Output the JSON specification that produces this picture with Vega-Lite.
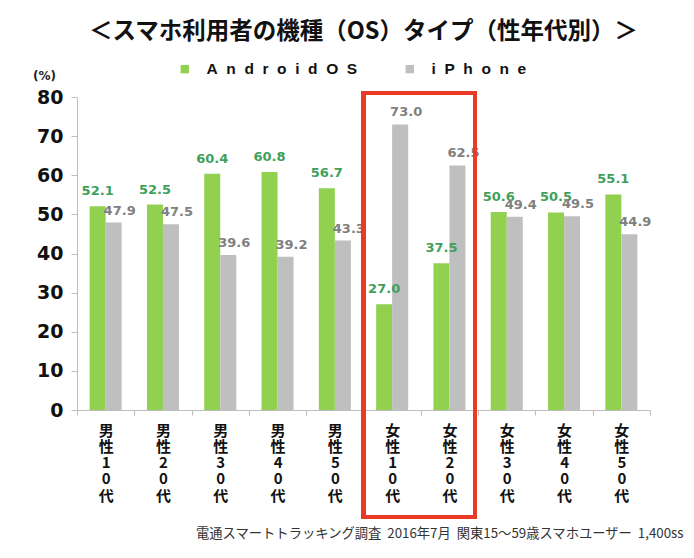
{
  "$schema": "https://vega.github.io/schema/vega-lite/v6.json",
  "width": 573,
  "height": 313,
  "autosize": {"type": "none"},
  "padding": {"left": 77, "top": 97, "right": 44, "bottom": 148},
  "background": "white",
  "title": {
    "text": "＜スマホ利用者の機種（OS）タイプ（性年代別）＞",
    "font": "Noto Sans CJK JP",
    "fontSize": 23.5,
    "fontWeight": "bold",
    "color": "#111111",
    "anchor": "middle",
    "frame": "group",
    "offset": 18
  },
  "config": {
    "view": {"stroke": null},
    "axis": {"grid": false},
    "axisY": {
      "titleAngle": 0,
      "titleX": -33,
      "titleY": -22,
      "titleAlign": "center",
      "titleBaseline": "middle",
      "titleFont": "DejaVu Sans",
      "titleFontSize": 12,
      "titleFontWeight": "bold",
      "titleColor": "#222222",
      "labelFont": "DejaVu Sans",
      "labelFontSize": 19,
      "labelFontWeight": "bold",
      "labelColor": "#111111",
      "labelPadding": 8,
      "tickSize": 6,
      "tickColor": "#bfbfbf",
      "domainColor": "#bfbfbf"
    }
  },
  "resolve": {"scale": {"x": "independent"}},
  "data": {
    "values": [
      {"cat": "男性10代", "series": "AndroidOS", "value": 52.1},
      {"cat": "男性10代", "series": "iPhone", "value": 47.9},
      {"cat": "男性20代", "series": "AndroidOS", "value": 52.5},
      {"cat": "男性20代", "series": "iPhone", "value": 47.5},
      {"cat": "男性30代", "series": "AndroidOS", "value": 60.4},
      {"cat": "男性30代", "series": "iPhone", "value": 39.6},
      {"cat": "男性40代", "series": "AndroidOS", "value": 60.8},
      {"cat": "男性40代", "series": "iPhone", "value": 39.2},
      {"cat": "男性50代", "series": "AndroidOS", "value": 56.7},
      {"cat": "男性50代", "series": "iPhone", "value": 43.3},
      {"cat": "女性10代", "series": "AndroidOS", "value": 27.0},
      {"cat": "女性10代", "series": "iPhone", "value": 73.0},
      {"cat": "女性20代", "series": "AndroidOS", "value": 37.5},
      {"cat": "女性20代", "series": "iPhone", "value": 62.5},
      {"cat": "女性30代", "series": "AndroidOS", "value": 50.6},
      {"cat": "女性30代", "series": "iPhone", "value": 49.4},
      {"cat": "女性40代", "series": "AndroidOS", "value": 50.5},
      {"cat": "女性40代", "series": "iPhone", "value": 49.5},
      {"cat": "女性50代", "series": "AndroidOS", "value": 55.1},
      {"cat": "女性50代", "series": "iPhone", "value": 44.9}
    ]
  },
  "layer": [
    {
      "layer": [
        {
          "mark": {"type": "bar"},
          "encoding": {
            "xOffset": {
              "field": "series",
              "type": "nominal",
              "scale": {"paddingInner": 0, "paddingOuter": 0.79}
            },
            "color": {
              "field": "series",
              "type": "nominal",
              "scale": {"domain": ["AndroidOS", "iPhone"], "range": ["#92d050", "#bfbfbf"]},
              "legend": {
                "title": null,
                "orient": "none",
                "direction": "horizontal",
                "legendX": 100,
                "legendY": -36,
                "symbolType": "square",
                "symbolSize": 70,
                "symbolStrokeWidth": 0,
                "labelFont": "Liberation Sans",
                "labelFontSize": 15.5,
                "labelFontWeight": "bold",
                "labelColor": "#111111",
                "labelOffset": 14,
                "columnPadding": 44,
                "labelExpr": "join(split(datum.label, ''), '\u00a0\u00a0')"
              }
            }
          }
        },
        {
          "transform": [{"filter": "datum.series == 'AndroidOS'"}],
          "mark": {
            "type": "text",
            "font": "DejaVu Sans",
            "fontSize": 13,
            "fontWeight": "bold",
            "color": "#3fa05c",
            "baseline": "alphabetic",
            "dy": -11
          },
          "encoding": {
            "xOffset": {"datum": "AndroidOS", "scale": {"paddingInner": 0, "paddingOuter": 0.79}},
            "text": {"field": "value", "type": "quantitative", "format": ".1f"}
          }
        },
        {
          "transform": [{"filter": "datum.series == 'iPhone'"}],
          "mark": {
            "type": "text",
            "font": "DejaVu Sans",
            "fontSize": 13,
            "fontWeight": "bold",
            "color": "#808080",
            "baseline": "alphabetic",
            "dy": -8,
            "dx": 6
          },
          "encoding": {
            "xOffset": {"datum": "iPhone", "scale": {"paddingInner": 0, "paddingOuter": 0.79}},
            "text": {"field": "value", "type": "quantitative", "format": ".1f"}
          }
        }
      ],
      "encoding": {
        "x": {
          "field": "cat",
          "type": "nominal",
          "sort": null,
          "scale": {"paddingInner": 0, "paddingOuter": 0},
          "axis": {
            "title": "電通スマートトラッキング調査\u00a0\u00a02016年7月\u00a0\u00a0関東15～59歳スマホユーザー\u00a0\u00a01,400ss",
            "titleFont": "Noto Sans CJK JP",
            "titleFontSize": 13.3,
            "titleFontWeight": "normal",
            "titleColor": "#333333",
            "titleAnchor": "end",
            "titleAlign": "right",
            "titleX": 606,
            "titleY": 123,
            "titleBaseline": "middle",
            "labelAngle": 0,
            "labelExpr": "split(datum.label, '')",
            "labelFont": "Noto Sans CJK JP",
            "labelFontSize": 15,
            "labelFontWeight": "bold",
            "labelColor": "#111111",
            "labelLineHeight": 16.3,
            "labelBaseline": "top",
            "labelPadding": 8,
            "tickBand": "extent",
            "tickSize": 5,
            "tickColor": "#bfbfbf",
            "domainColor": "#bfbfbf"
          }
        },
        "y": {
          "field": "value",
          "type": "quantitative",
          "scale": {"domain": [0, 80], "nice": false},
          "axis": {"values": [0, 10, 20, 30, 40, 50, 60, 70, 80], "title": "(%)", "labelOverlap": false}
        }
      }
    },
    {
      "mark": {"type": "rect", "fill": "transparent", "stroke": "#ea3a26", "strokeWidth": 3.5, "clip": false},
      "encoding": {
        "x": {"datum": 5, "type": "quantitative", "scale": {"domain": [0, 10], "nice": false, "zero": false}, "axis": null},
        "x2": {"datum": 6.95},
        "y": {
          "datum": 81.1,
          "type": "quantitative",
          "scale": {"domain": [0, 80], "nice": false},
          "axis": {"values": [0, 10, 20, 30, 40, 50, 60, 70, 80], "title": "(%)", "labelOverlap": false}
        },
        "y2": {"datum": -27.4}
      }
    }
  ]
}
